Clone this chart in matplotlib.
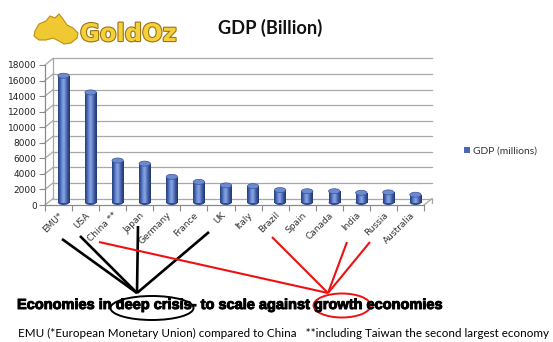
import numpy as np
import matplotlib
matplotlib.use("Agg")
import matplotlib.pyplot as plt
from matplotlib.patches import Rectangle, Ellipse, Polygon, Patch
from matplotlib.lines import Line2D
from matplotlib.colors import LinearSegmentedColormap
import matplotlib.patheffects as pe

# ---------------- data ----------------
countries = ["EMU*", "USA", "China **", "Japan", "Germany", "France", "UK",
             "Italy", "Brazil", "Spain", "Canada", "India", "Russia", "Australia"]
gdp = [16300, 14150, 5400, 5000, 3300, 2650, 2200,
       2100, 1600, 1450, 1450, 1250, 1300, 1000]
y_ticks = [0, 2000, 4000, 6000, 8000, 10000, 12000, 14000, 16000, 18000]
title = "GDP (Billion)"
legend_label = "GDP (millions)"
logo_text = "GoldOz"
headline = "Economies in deep crisis- to scale against growth economies"
footnote = "EMU (*European Monetary Union) compared to China   **including Taiwan the second largest economy"

# ---------------- figure ----------------
W, H = 553, 342
DPI = 100
fig = plt.figure(figsize=(W / DPI, H / DPI), dpi=DPI)
fig.patch.set_facecolor("white")


def fx(px):
    return px / W


def fy(py):
    return 1 - py / H


ax_l, ax_r, ax_t, ax_b = 45, 424, 65, 205
ax = fig.add_axes([fx(ax_l), fy(ax_b), (ax_r - ax_l) / W, (ax_b - ax_t) / H])
n = len(countries)
ymax = y_ticks[-1]
ax.set_xlim(0, n)
ax.set_ylim(0, ymax)
ax.set_facecolor("none")
for s in ax.spines.values():
    s.set_visible(False)

px_x = (ax_r - ax_l) / n          # pixels per category
px_y = (ax_b - ax_t) / ymax       # pixels per unit


def dx(p):
    return p / px_x


def dy(p):
    return p / px_y


axis_c = "#8a8a8a"
grid_c = "#a8a8a8"

# back wall depth offset
bdx, bdy = dx(8), dy(6.5)
for t in y_ticks:
    ax.plot([bdx, n + bdx], [t + bdy, t + bdy], color=grid_c, lw=0.9, clip_on=False, zorder=1)
    ax.plot([0, bdx], [t, t + bdy], color=grid_c, lw=0.9, clip_on=False, zorder=1)
ax.plot([bdx, bdx], [bdy, ymax + bdy], color=grid_c, lw=0.9, clip_on=False, zorder=1)
ax.plot([n, n + bdx], [0, bdy], color=grid_c, lw=0.9, clip_on=False, zorder=1)
ax.plot([n + bdx, n + bdx], [bdy, bdy - dy(4)], color=grid_c, lw=0.9, clip_on=False, zorder=1)
# front axes
ax.plot([0, 0], [0, ymax], color=axis_c, lw=0.9, clip_on=False, zorder=2)
ax.plot([0, n], [0, 0], color=axis_c, lw=0.9, clip_on=False, zorder=2)

# ticks
ax.set_yticks(y_ticks)
ax.set_yticklabels([str(t) for t in y_ticks])
ax.tick_params(axis="y", length=4, width=0.8, color=axis_c, labelsize=6.5,
               labelcolor="#222222", pad=2)
ax.set_xticks(np.arange(n + 1))
ax.set_xticklabels([""] * (n + 1))
ax.tick_params(axis="x", which="major", length=4, width=0.8, color=axis_c)
ax.set_xticks(np.arange(n) + 0.5, minor=True)
ax.set_xticklabels(countries, minor=True, rotation=45, ha="right",
                   rotation_mode="anchor", fontsize=6.5, color="#333333")
ax.tick_params(axis="x", which="minor", length=0, pad=4)

# bars as shaded cylinders
cyl = LinearSegmentedColormap.from_list(
    "cyl", ["#263f7a", "#3f5fa8", "#6f8ed6", "#8aa5e2", "#5675c0", "#34508f", "#22386c"])
grad = np.linspace(0, 1, 64).reshape(1, -1)
bw = 0.42
ox, oy = dx(5), dy(2.5)
eh = dy(5)
for i, v in enumerate(gdp):
    xc = i + 0.5 + ox
    x0 = xc - bw / 2
    body = Rectangle((x0, oy), bw, v, facecolor="none", edgecolor="none")
    ax.add_patch(body)
    im = ax.imshow(grad, cmap=cyl, extent=[x0, x0 + bw, oy, oy + v],
                   aspect="auto", zorder=3, interpolation="bilinear")
    im.set_clip_path(body)
    ax.add_patch(Ellipse((xc, oy), bw, eh, facecolor="#2f4a8c", edgecolor="none", zorder=2.9))
    ax.add_patch(Ellipse((xc, oy + v), bw, eh, facecolor="#6c8ad0",
                         edgecolor="#3c5799", lw=0.5, zorder=4))
ax.set_xlim(0, n)
ax.set_ylim(0, ymax)

# legend
leg = fig.legend(handles=[Patch(facecolor="#4a68b3", edgecolor="none", label=legend_label)],
                 loc="center left", bbox_to_anchor=(fx(464), fy(151)),
                 bbox_transform=fig.transFigure, frameon=False, fontsize=7,
                 handlelength=0.6, handleheight=0.6, handletextpad=0.35,
                 borderpad=0, borderaxespad=0)
renderer = fig.canvas.get_renderer()


def fit(t, width_px):
    bb = t.get_window_extent(renderer)
    t.set_fontsize(t.get_fontsize() * width_px / bb.width)


for t in leg.get_texts():
    t.set_color("#333333")
    t.set_family("Lato")
    fit(t, 64)

# title
tt = fig.text(fx(270), fy(28), title, ha="center", va="center", fontsize=11,
              fontweight="bold", family="Lato", color="#111111")
fit(tt, 104)

# logo
aus = [(35, 31), (39, 24), (46, 21), (50, 16), (55, 18), (59, 14), (63, 19),
       (67, 25), (73, 28), (78, 33), (77, 38), (71, 43), (64, 44), (59, 41),
       (53, 38), (46, 40), (39, 40), (34, 36)]
fig.add_artist(Polygon([(fx(a), fy(b)) for a, b in aus], closed=True,
                       transform=fig.transFigure, facecolor="#f0c832",
                       edgecolor="#b8900e", lw=0.8))
lg = fig.text(fx(80), fy(34), logo_text, ha="left", va="center", fontsize=16,
              fontweight="bold", family="DejaVu Sans", color="#f3d03c",
              path_effects=[pe.withStroke(linewidth=1.6, foreground="#9c7410")])
fit(lg, 97)

# headline and footnote
hl = fig.text(fx(17), fy(305), headline, ha="left", va="center", fontsize=9,
              fontweight="bold", family="Liberation Sans", color="black",
              path_effects=[pe.withStroke(linewidth=0.7, foreground="black")])
fit(hl, 426)
fn = fig.text(fx(18), fy(333), footnote, ha="left", va="center", fontsize=7,
              family="Lato", color="black")
fit(fn, 528)

# annotation lines
black_starts = [(62, 239), (80, 236), (138, 226), (209, 232)]
black_end = (137, 293)
for sx, sy in black_starts:
    fig.add_artist(Line2D([fx(sx), fx(black_end[0])], [fy(sy), fy(black_end[1])],
                          transform=fig.transFigure, color="black", lw=1.9,
                          solid_capstyle="butt"))
red_starts = [(99, 242), (272, 237), (347, 242), (370, 242)]
red_end = (328, 293)
for sx, sy in red_starts:
    fig.add_artist(Line2D([fx(sx), fx(red_end[0])], [fy(sy), fy(red_end[1])],
                          transform=fig.transFigure, color="#ee1111", lw=1.5,
                          solid_capstyle="butt"))
fig.add_artist(Ellipse((fx(152), fy(308)), 83 / W, 24 / H, transform=fig.transFigure,
                       facecolor="none", edgecolor="black", lw=1.4))
fig.add_artist(Ellipse((fx(342), fy(305.5)), 57 / W, 24 / H, transform=fig.transFigure,
                       facecolor="none", edgecolor="#ee1111", lw=1.4))

fig.savefig("out.png", dpi=DPI)
